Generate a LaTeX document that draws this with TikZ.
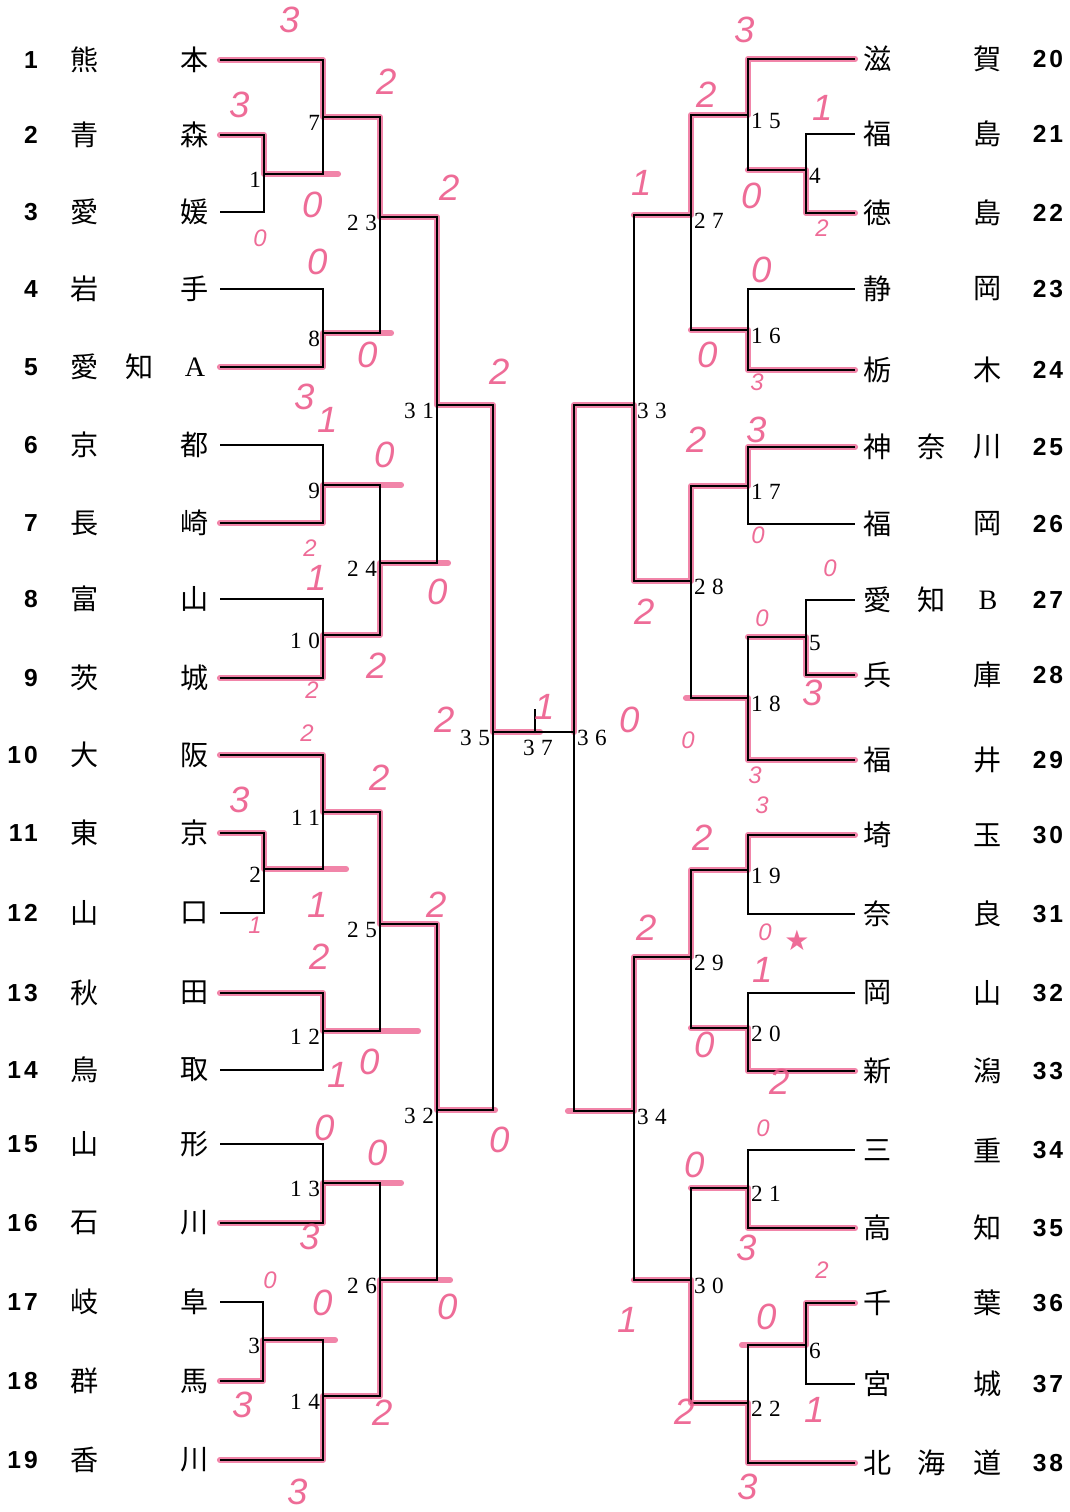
\documentclass[tikz,border=0pt]{standalone}
\usepackage{fontspec}
\setmainfont{Liberation Serif}
\newfontfamily\jpfont{Noto Sans CJK JP}
\newfontfamily\numfont[LetterSpace=12]{Liberation Sans}
\newfontfamily\matchfont[LetterSpace=28]{Liberation Serif}
\newfontfamily\handfont{Liberation Sans}
\newfontfamily\symfont{DejaVu Sans}
\definecolor{hlpink}{RGB}{236,92,140}

\begin{document}
\begin{tikzpicture}[x=0.025cm,y=-0.025cm,
  bline/.style={draw=black,line width=0.9pt},
  hilite/.style={draw=hlpink,line width=4.4pt,opacity=0.75,line join=round,line cap=round},
  tname/.style={font=\jpfont\fontsize{20}{20}\selectfont,inner sep=0pt},
  tnum/.style={font=\numfont\bfseries\fontsize{17.5}{17.5}\selectfont,inner sep=0pt},
  mlab/.style={font=\matchfont\fontsize{16.5}{16.5}\selectfont,inner sep=1pt},
  mlabL/.style={mlab,anchor=east,xshift=-1pt,yshift=-4pt},
  mlabR/.style={mlab,anchor=west,xshift=1pt,yshift=-4pt},
  score/.style={text=hlpink,font=\handfont\itshape\fontsize{26}{26}\selectfont,inner sep=0pt,opacity=0.9},
  scoresm/.style={score,font=\handfont\itshape\fontsize{17}{17}\selectfont}
]
  \useasboundingbox (0,0) rectangle (1070,1512);

  % teams, left block
  \foreach \n/\y/\a/\b in {1/60/熊/本,2/135/青/森,3/212/愛/媛,4/289/岩/手,5/367/愛/{\rmfamily A},
      6/445/京/都,7/523/長/崎,8/599/富/山,9/678/茨/城,10/755/大/阪,11/833/東/京,12/913/山/口,
      13/993/秋/田,14/1070/鳥/取,15/1144/山/形,16/1223/石/川,17/1302/岐/阜,18/1381/群/馬,19/1460/香/川}{
    \node[tnum,anchor=east] (num\n) at (38,\y) {\n};
    \node[tname] (fst\n) at (85,\y) {\a};
    \node[tname] (lst\n) at (195,\y) {\b};
    \coordinate (t\n) at (220,\y);
  }
  \node[tname] (mid5) at (140,367) {知};

  % teams, right block
  \foreach \n/\y/\a/\b in {20/59/滋/賀,21/134/福/島,22/213/徳/島,23/289/静/岡,24/370/栃/木,
      25/447/神/川,26/524/福/岡,27/600/愛/{\rmfamily B},28/675/兵/庫,29/760/福/井,30/835/埼/玉,
      31/914/奈/良,32/993/岡/山,33/1071/新/潟,34/1150/三/重,35/1228/高/知,36/1303/千/葉,
      37/1384/宮/城,38/1463/北/道}{
    \node[tname] (fst\n) at (878,\y) {\a};
    \node[tname] (lst\n) at (988,\y) {\b};
    \node[tnum] (num\n) at (1048,\y) {\n};
    \coordinate (t\n) at (855,\y);
  }
  \node[tname] (mid25) at (932,447) {奈};
  \node[tname] (mid27) at (932,600) {知};
  \node[tname] (mid38) at (932,1463) {海};

  % match junctions
  \coordinate (m1) at (264,174);   \coordinate (m2) at (264,869);   \coordinate (m3) at (263,1340);
  \coordinate (m7) at (323,117);   \coordinate (m8) at (323,333);   \coordinate (m9) at (323,485);
  \coordinate (m10) at (323,635);  \coordinate (m11) at (323,812);  \coordinate (m12) at (323,1031);
  \coordinate (m13) at (323,1183); \coordinate (m14) at (323,1396);
  \coordinate (m23) at (380,217);  \coordinate (m24) at (380,563);  \coordinate (m25) at (380,924);
  \coordinate (m26) at (380,1280);
  \coordinate (m31) at (437,405);  \coordinate (m32) at (437,1110);
  \coordinate (m35) at (493,732);
  \coordinate (m4) at (806,170);   \coordinate (m5) at (806,637);   \coordinate (m6) at (806,1345);
  \coordinate (m15) at (748,115);  \coordinate (m16) at (748,330);  \coordinate (m17) at (748,486);
  \coordinate (m18) at (748,698);  \coordinate (m19) at (748,870);  \coordinate (m20) at (748,1028);
  \coordinate (m21) at (748,1188); \coordinate (m22) at (748,1403);
  \coordinate (m27) at (691,215);  \coordinate (m28) at (691,581);  \coordinate (m29) at (691,957);
  \coordinate (m30) at (691,1280);
  \coordinate (m33) at (634,405);  \coordinate (m34) at (634,1111);
  \coordinate (m36) at (574,732);
  \coordinate (m37) at (535,732);  \coordinate (tick) at (535,709);

  % marker pen over the winners
  \draw[hilite] (t1) -| (m7) -| (m23) -| (m31) -| (m35) -- (m37) -- ++(5,0);
  \draw[hilite] (t2) -| (m1) -- ++(74,0);
  \draw[hilite] (t5) -| (m8) -- ++(68,0);
  \draw[hilite] (t7) -| (m9) -- ++(78,0);
  \draw[hilite] (t9) -| (m10) -| (m24) -- ++(68,0);
  \draw[hilite] (t10) -| (m11) -| (m25) -| (m32) -- ++(58,0);
  \draw[hilite] (t11) -| (m2) -- ++(82,0);
  \draw[hilite] (t13) -| (m12) -- ++(95,0);
  \draw[hilite] (t16) -| (m13) -- ++(78,0);
  \draw[hilite] (t18) -| (m3) -- ++(72,0);
  \draw[hilite] (t19) -| (m14) -| (m26) -- ++(70,0);
  \draw[hilite] (t20) -| (m15) -| (m27) -- ++(-57,0);
  \draw[hilite] (t22) -| (m4) -- ++(-58,0);
  \draw[hilite] (t24) -| (m16) -- ++(-57,0);
  \draw[hilite] (t25) -| (m17) -| (m28) -| (m33) -| (m36);
  \draw[hilite] (t28) -| (m5) -- ++(-58,0);
  \draw[hilite] (t29) -| (m18) -- ++(-62,0);
  \draw[hilite] (t30) -| (m19) -| (m29) -| (m34) -- ++(-66,0);
  \draw[hilite] (t33) -| (m20) -- ++(-57,0);
  \draw[hilite] (t35) -| (m21) -- ++(-57,0);
  \draw[hilite] (t36) -| (m6) -- ++(-64,0);
  \draw[hilite] (t38) -| (m22) -| (m30) -- ++(-57,0);

  % bracket, left half
  \draw[bline] (t2) -| (m1) |- (t3);
  \draw[bline] (t11) -| (m2) |- (t12);
  \draw[bline] (t17) -| (m3) |- (t18);
  \draw[bline] (t1) -| (m7) |- (m1);
  \draw[bline] (t4) -| (m8) |- (t5);
  \draw[bline] (t6) -| (m9) |- (t7);
  \draw[bline] (t8) -| (m10) |- (t9);
  \draw[bline] (t10) -| (m11) |- (m2);
  \draw[bline] (t13) -| (m12) |- (t14);
  \draw[bline] (t15) -| (m13) |- (t16);
  \draw[bline] (m3) -| (m14) |- (t19);
  \draw[bline] (m7) -| (m23) |- (m8);
  \draw[bline] (m9) -| (m24) |- (m10);
  \draw[bline] (m11) -| (m25) |- (m12);
  \draw[bline] (m13) -| (m26) |- (m14);
  \draw[bline] (m23) -| (m31) |- (m24);
  \draw[bline] (m25) -| (m32) |- (m26);
  \draw[bline] (m31) -| (m35) |- (m32);
  % final
  \draw[bline] (m35) -- (m36);
  \draw[bline] (m37) -- (tick);
  % bracket, right half
  \draw[bline] (t21) -| (m4) |- (t22);
  \draw[bline] (t27) -| (m5) |- (t28);
  \draw[bline] (t36) -| (m6) |- (t37);
  \draw[bline] (t20) -| (m15) |- (m4);
  \draw[bline] (t23) -| (m16) |- (t24);
  \draw[bline] (t25) -| (m17) |- (t26);
  \draw[bline] (m5) -| (m18) |- (t29);
  \draw[bline] (t30) -| (m19) |- (t31);
  \draw[bline] (t32) -| (m20) |- (t33);
  \draw[bline] (t34) -| (m21) |- (t35);
  \draw[bline] (m6) -| (m22) |- (t38);
  \draw[bline] (m15) -| (m27) |- (m16);
  \draw[bline] (m17) -| (m28) |- (m18);
  \draw[bline] (m19) -| (m29) |- (m20);
  \draw[bline] (m21) -| (m30) |- (m22);
  \draw[bline] (m27) -| (m33) |- (m28);
  \draw[bline] (m29) -| (m34) |- (m30);
  \draw[bline] (m33) -| (m36) |- (m34);

  % match numbers
  \foreach \m in {1,2,3,7,8,9,10,11,12,13,14,23,24,25,26,31,32,35}
    \node[mlabL] (n\m) at (m\m) {\m};
  \foreach \m in {4,5,6,15,16,17,18,19,20,21,22,27,28,29,30,33,34,36}
    \node[mlabR] (n\m) at (m\m) {\m};
  \node[mlab] (n37) at (538,748) {37};

  % handwritten scores
  \foreach \x/\y/\s [count=\k] in {290/20/3,387/82/2,240/105/3,313/205/0,450/188/2,318/262/0,
      368/355/0,500/372/2,305/397/3,328/420/1,385/455/0,317/578/1,438/592/0,377/666/2,445/720/2,
      380/778/2,240/800/3,318/905/1,437/905/2,320/957/2,338/1075/1,370/1062/0,325/1128/0,
      500/1140/0,378/1153/0,310/1237/3,323/1303/0,448/1307/0,243/1405/3,383/1413/2,298/1492/3,
      545/707/1,630/720/0,
      745/30/3,707/95/2,823/108/1,642/183/1,752/196/0,762/270/0,708/355/0,697/440/2,757/430/3,
      645/612/2,813/693/3,703/838/2,647/928/2,763/970/1,705/1045/0,780/1082/2,695/1165/0,
      747/1248/3,628/1320/1,767/1317/0,685/1412/2,815/1410/1,748/1487/3}
    \node[score] (sc\k) at (\x,\y) {\s};
  \foreach \x/\y/\s [count=\k] in {260/238/0,310/548/2,312/690/2,307/733/2,255/925/1,270/1280/0,
      822/228/2,757/382/3,758/535/0,830/568/0,762/618/0,688/740/0,755/775/3,762/805/3,
      765/932/0,763/1128/0,822/1270/2}
    \node[scoresm] (ss\k) at (\x,\y) {\s};
  \node[score,font=\symfont\fontsize{20}{20}\selectfont] (star) at (797,940) {★};
\end{tikzpicture}
\end{document}
